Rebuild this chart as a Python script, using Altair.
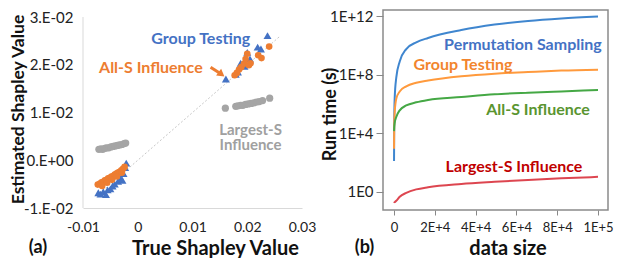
import altair as alt
import pandas as pd

# ---------------- Panel (a) data ----------------
gt_x = [-0.0072, -0.0068, -0.0063, -0.0058, -0.0055, -0.0050, -0.0046, -0.0042, -0.0036, -0.0031,
        -0.0028, -0.0026, -0.0023, -0.0021,
        0.0161, 0.0179, 0.0183, 0.0188, 0.0195, 0.0200, 0.0205, 0.0219, 0.0225, 0.0237]
gt_y = [-0.0068, -0.0071, -0.0066, -0.0072, -0.0062, -0.0060, -0.0054, -0.0050, -0.0044, -0.0039,
        -0.0042, -0.0028, -0.0015, -0.0006,
        0.0170, 0.0180, 0.0185, 0.0203, 0.0197, 0.0226, 0.0212, 0.0237, 0.0233, 0.0261]

as_x = [-0.0073, -0.0069, -0.0066, -0.0063, -0.0060, -0.0057, -0.0054, -0.0051, -0.0048, -0.0045,
        -0.0042, -0.0039, -0.0036, -0.0033, -0.0030, -0.0027, -0.0024,
        -0.0065, -0.0056, -0.0047, -0.0038, -0.0029,
        0.0177, 0.0181, 0.0185, 0.0189, 0.0194, 0.0197, 0.0200, 0.0203, 0.0206, 0.0220, 0.0226, 0.0240]
as_y = [-0.0051, -0.0049, -0.0046, -0.0045, -0.0042, -0.0041, -0.0038, -0.0037, -0.0034, -0.0033,
        -0.0030, -0.0028, -0.0026, -0.0024, -0.0021, -0.0018, -0.0014,
        -0.0054, -0.0047, -0.0041, -0.0034, -0.0026,
        0.0178, 0.0183, 0.0190, 0.0195, 0.0202, 0.0212, 0.0223, 0.0199, 0.0203, 0.0220, 0.0214, 0.0238]

ls_x = [-0.0071, -0.0067, -0.0064, -0.0060, -0.0057, -0.0053, -0.0049, -0.0045, -0.0041, -0.0037,
        -0.0033, -0.0029, -0.0025, -0.0022,
        0.0160, 0.0179, 0.0183, 0.0188, 0.0192, 0.0197, 0.0202, 0.0207, 0.0212, 0.0217, 0.0222,
        0.0228, 0.0241]
ls_y = [0.0023, 0.0024, 0.0023, 0.0025, 0.0026, 0.0026, 0.0028, 0.0029, 0.0030, 0.0031,
        0.0032, 0.0033, 0.0035, 0.0036,
        0.0109, 0.0113, 0.0114, 0.0115, 0.0115, 0.0117, 0.0118, 0.0119, 0.0120, 0.0122, 0.0123,
        0.0125, 0.0130]

diag_xy = [-0.0075, 0.026]

a_x_ticks = [-0.01, 0, 0.01, 0.02, 0.03]
a_x_labels = ["-0.01", "0", "0.01", "0.02", "0.03"]
a_y_ticks = [-0.01, 0, 0.01, 0.02, 0.03]
a_y_labels = ["-1.E-02", "0.E+00", "1.E-02", "2.E-02", "3.E-02"]

a_notes = ["Group Testing", "All-S Influence", "Largest-S\nInfluence"]
a_note_x = [0.0115, 0.0024, 0.0206]
a_note_y = [0.0253, 0.0193, 0.0064]
a_note_c = ["#4472C4", "#ED7D31", "#A0A0A0"]
a_note_size = [16, 16, 15]

arrow_x = [0.0133, 0.0153]
arrow_y = [0.0195, 0.0180]

# ---------------- Panel (b) data ----------------
sizes = [10, 100, 330, 1100, 2800, 6000, 10900, 16700, 33000, 49300, 65700, 82000, 100000]
perm = [1.3e2, 6.3e4, 2.5e6, 6.3e7, 7.9e8, 5.6e9, 1.6e10, 3.2e10, 1.1e11, 2.6e11, 4.6e11, 6.8e11, 9.3e11]
group = [8.9e2, 3.2e4, 2.8e5, 2.3e6, 7.2e6, 1.6e7, 2.8e7, 4.0e7, 7.8e7, 1.17e8, 1.5e8, 1.9e8, 2.2e8]
alls = [1.4e4, 2.5e4, 5.0e4, 1.3e5, 3.7e5, 7.9e5, 1.3e6, 1.9e6, 3.0e6, 4.6e6, 5.9e6, 7.2e6, 8.9e6]
largest = [0.18, 0.19, 0.20, 0.25, 0.47, 0.87, 1.5, 2.1, 3.5, 4.9, 6.6, 8.5, 10.7]

methods = ["Permutation Sampling", "Group Testing", "All-S Influence", "Largest-S Influence"]
line_colors = ["#3F86CF", "#FF9A3D", "#45A845", "#DD4650"]
text_colors = ["#4472C4", "#F2852E", "#5A9530", "#C00000"]

b_note_x = [63200, 33800, 70600, 58800]
b_note_y = [1.05e10, 4.6e8, 3.9e5, 50]

b_x_ticks = [0, 20000, 40000, 60000, 80000, 100000]
b_x_labels = ["0", "2E+4", "4E+4", "6E+4", "8E+4", "1E+5"]
b_y_ticks = [1, 1e4, 1e8, 1e12]
b_y_labels = ["1E0", "1E+4", "1E+8", "1E+12"]

FONT = "Lato"


def label_expr(ticks, labels):
    expr = f"'{labels[-1]}'"
    for i in range(len(ticks) - 2, -1, -1):
        mid = (ticks[i] + ticks[i + 1]) / 2
        expr = f"datum.value < {mid} ? '{labels[i]}' : ({expr})"
    return expr


# ---------------- Panel (a) ----------------
ax_scale = alt.Scale(domain=[-0.01, 0.03], nice=False, zero=False)
ay_scale = alt.Scale(domain=[-0.01, 0.03147], nice=False, zero=False)

ax_axis = alt.Axis(values=a_x_ticks, labelExpr=label_expr(a_x_ticks, a_x_labels), grid=False,
                   ticks=False, domainColor="#d9d9d9", labelFontSize=14, labelFont=FONT,
                   labelColor="#222222", labelPadding=12, title="True Shapley Value",
                   titleFont=FONT, titleFontSize=20, titleFontWeight="bold", titleColor="#111111",
                   titleX=132, titleY=46, titleBaseline="alphabetic", labelFlush=False)
ay_axis = alt.Axis(values=a_y_ticks, labelExpr=label_expr(a_y_ticks, a_y_labels), grid=False,
                   ticks=False, domain=False, labelFontSize=15, labelFont=FONT,
                   labelColor="#222222", labelPadding=10, title="Estimated Shapley Value",
                   titleFont=FONT, titleFontSize=17.5, titleFontWeight="bold", titleColor="#111111",
                   titleX=-60, titleBaseline="alphabetic", labelFlush=False)

def AX(f):
    return alt.X(f, type="quantitative", scale=ax_scale, axis=ax_axis)

def AY(f):
    return alt.Y(f, type="quantitative", scale=ay_scale, axis=ay_axis)

left_rule = alt.Chart(pd.DataFrame({"x": [a_y_ticks[0]], "y": [a_y_ticks[0]], "y2": [a_y_ticks[-1]]})).mark_rule(
    color="#d9d9d9", strokeWidth=1).encode(x=AX("x"), y=AY("y"), y2="y2")

diag = alt.Chart(pd.DataFrame({"x": diag_xy, "y": diag_xy})).mark_line(
    color="#c8c8c8", strokeWidth=1, strokeDash=[2, 2]).encode(x=AX("x"), y=AY("y"))

ls_pts = alt.Chart(pd.DataFrame({"x": ls_x, "y": ls_y})).mark_circle(
    size=52, color="#A5A5A5", opacity=1).encode(x=AX("x"), y=AY("y"))
gt_pts = alt.Chart(pd.DataFrame({"x": gt_x, "y": gt_y})).mark_point(
    shape="triangle-up", filled=True, size=64, color="#4472C4", opacity=1).encode(x=AX("x"), y=AY("y"))
as_pts = alt.Chart(pd.DataFrame({"x": as_x, "y": as_y})).mark_circle(
    size=44, color="#ED7D31", opacity=1).encode(x=AX("x"), y=AY("y"))

arrow_shaft = alt.Chart(pd.DataFrame({"x": [arrow_x[0]], "y": [arrow_y[0]], "x2": [arrow_x[1]], "y2": [arrow_y[1]]})).mark_rule(
    color="#ED7D31", strokeWidth=3).encode(x=AX("x"), y=AY("y"), x2="x2", y2="y2")
arrow_head = alt.Chart(pd.DataFrame({"x": [arrow_x[1]], "y": [arrow_y[1]]})).mark_point(
    shape="triangle-up", filled=True, size=70, angle=127, color="#ED7D31", opacity=1).encode(x=AX("x"), y=AY("y"))

a_text = alt.Chart(pd.DataFrame({"x": a_note_x, "y": a_note_y, "t": a_notes, "c": a_note_c,
                                 "s": a_note_size})).mark_text(
    font=FONT, fontWeight="bold", baseline="middle", lineBreak="\n", lineHeight=15.5).encode(
    x=AX("x"), y=AY("y"), text="t:N", color=alt.Color("c:N", scale=None),
    size=alt.Size("s:Q", scale=None))

a_tag = alt.Chart(pd.DataFrame({"t": ["(a)"]})).mark_text(
    font=FONT, fontSize=18, fontWeight="bold", color="#111111", baseline="alphabetic").encode(
    x=alt.value(-45), y=alt.value(243), text="t:N")

panel_a = alt.layer(left_rule, diag, ls_pts, gt_pts, as_pts, arrow_shaft, arrow_head, a_text, a_tag).properties(
    width=219, height=198, view=alt.ViewBackground(stroke="transparent"))

# ---------------- Panel (b) ----------------
rows = []
for m, vals in zip(methods, [perm, group, alls, largest]):
    for s, v in zip(sizes, vals):
        rows.append({"size": s, "time": v, "method": m})
df_b = pd.DataFrame(rows)

bx_scale = alt.Scale(domain=[-5400, 104900], nice=False, zero=False)
by_scale = alt.Scale(type="log", domain=[10 ** -1.23, 10 ** 12.41], nice=False)

bx_axis = alt.Axis(values=b_x_ticks, labelExpr=label_expr(b_x_ticks, b_x_labels), grid=False,
                   domain=False, ticks=True, tickSize=5, tickColor="#888888", labelFontSize=13,
                   labelFont=FONT, labelColor="#222222", labelPadding=6, title="data size",
                   titleFont=FONT, titleFontSize=20, titleFontWeight="bold", titleColor="#111111",
                   titleX=124.5, titleY=44, titleBaseline="alphabetic", labelFlush=False)
by_axis = alt.Axis(values=b_y_ticks, labelExpr=label_expr(b_y_ticks, b_y_labels), grid=False,
                   domain=False, ticks=True, tickSize=7, tickColor="#888888", labelFontSize=15,
                   labelFont=FONT, labelColor="#222222", labelPadding=3, title="Run time (s)",
                   titleFont=FONT, titleFontSize=18, titleFontWeight="bold", titleColor="#111111",
                   titleX=-48, titleY=104, titleBaseline="alphabetic", labelFlush=False)

def BX(f):
    return alt.X(f, type="quantitative", scale=bx_scale, axis=bx_axis)

def BY(f):
    return alt.Y(f, type="quantitative", scale=by_scale, axis=by_axis)

b_lines = alt.Chart(df_b).mark_line(strokeWidth=2, interpolate="monotone").encode(
    x=BX("size"), y=BY("time"),
    color=alt.Color("method:N", scale=alt.Scale(domain=methods, range=line_colors), legend=None),
    detail="method:N")

b_text = alt.Chart(pd.DataFrame({"x": b_note_x, "y": b_note_y, "t": methods, "c": text_colors})).mark_text(
    font=FONT, fontSize=16, fontWeight="bold", baseline="middle").encode(
    x=BX("x"), y=BY("y"), text="t:N", color=alt.Color("c:N", scale=None))

b_tag = alt.Chart(pd.DataFrame({"t": ["(b)"]})).mark_text(
    font=FONT, fontSize=18, fontWeight="bold", color="#111111", baseline="alphabetic").encode(
    x=alt.value(-18.5), y=alt.value(243), text="t:N")

panel_b = alt.layer(b_lines, b_text, b_tag).properties(
    width=225, height=200, view=alt.ViewBackground(stroke="#8a8a8a", strokeWidth=1.5))

chart = alt.hconcat(panel_a, panel_b, spacing=3).resolve_scale(color="independent").properties(
    padding=0, background="white")

chart.save("out.html", embed_options={"renderer": "svg", "actions": False})
